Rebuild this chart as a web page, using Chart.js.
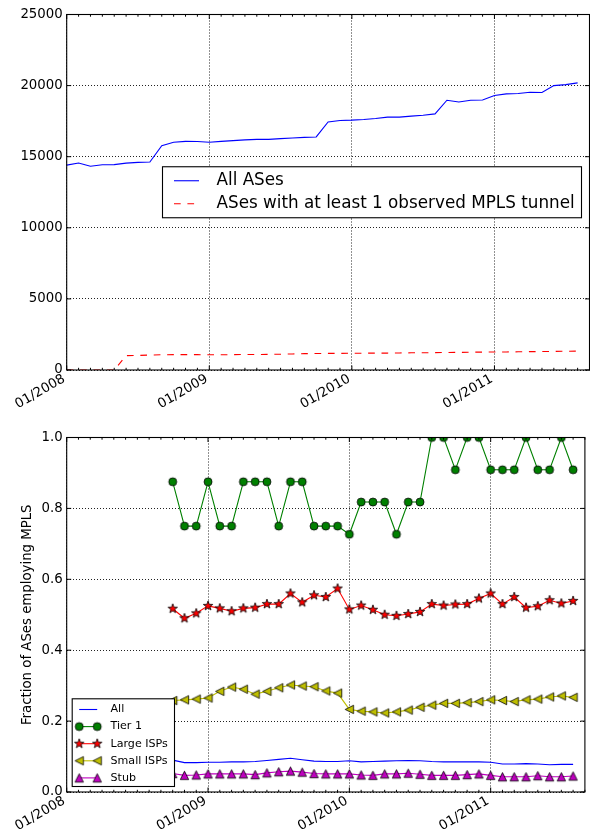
<!DOCTYPE html>
<html>
<head>
<meta charset="utf-8">
<script src="https://cdn.jsdelivr.net/npm/chart.js@4/dist/chart.umd.min.js"></script>
<style>
  html, body { margin: 0; padding: 0; background: #fff; }
  #wrap { position: relative; width: 590px; height: 835px; }
  canvas { position: absolute; left: 0; }
  #top { top: 0; }
  #bottom { top: 420px; }
</style>
</head>
<body>
<div id="wrap">
  <canvas id="top" width="590" height="420"></canvas>
  <canvas id="bottom" width="590" height="415"></canvas>
</div>
<script>
const FONT = '"DejaVu Sans", sans-serif';

// x values are months counted from 01/2008
const yearTicks = [0, 12, 24, 36];
const yearLabels = ['01/2008', '01/2009', '01/2010', '01/2011'];

// upper panel: number of ASes per month, 01/2008 .. 08/2011
const topStart = 0;
const allAses = [14410, 14560, 14330, 14430, 14440, 14550, 14600, 14630, 15780, 16020,
  16080, 16070, 16020, 16080, 16130, 16180, 16220, 16220, 16270, 16320,
  16360, 16390, 17440, 17550, 17570, 17620, 17690, 17780, 17780, 17850,
  17920, 18010, 18970, 18850, 18970, 18990, 19300, 19420, 19440, 19530,
  19510, 20000, 20070, 20190];
const mplsAses = [0, 0, 0, 0, 0, 1010, 1020, 1050, 1070, 1080,
  1080, 1080, 1070, 1070, 1080, 1090, 1090, 1100, 1110, 1130,
  1150, 1160, 1170, 1170, 1180, 1180, 1190, 1190, 1200, 1210,
  1210, 1220, 1230, 1240, 1250, 1260, 1270, 1270, 1280, 1290,
  1300, 1310, 1320, 1330];

// lower panel: fraction employing MPLS, 10/2008 .. 08/2011
const bottomStart = 9;
const fracAll = [0.09, 0.083, 0.083, 0.084, 0.084, 0.085, 0.085, 0.086, 0.089, 0.092,
  0.095, 0.091, 0.087, 0.086, 0.086, 0.088, 0.085, 0.086, 0.087, 0.088,
  0.089, 0.088, 0.086, 0.085, 0.085, 0.085, 0.085, 0.084, 0.079, 0.079,
  0.08, 0.079, 0.077, 0.078, 0.078];
const fracTier1 = [0.875, 0.75, 0.75, 0.875, 0.75, 0.75, 0.875, 0.875, 0.875, 0.75,
  0.875, 0.875, 0.75, 0.75, 0.75, 0.727, 0.818, 0.818, 0.818, 0.727,
  0.818, 0.818, 1, 1, 0.909, 1, 1, 0.909, 0.909, 0.909,
  1, 0.909, 0.909, 1, 0.909];
const fracLarge = [0.517, 0.49, 0.504, 0.525, 0.518, 0.51, 0.518, 0.52, 0.53, 0.53,
  0.56, 0.535, 0.555, 0.55, 0.574, 0.515, 0.526, 0.514, 0.5, 0.497,
  0.502, 0.508, 0.53, 0.526, 0.529, 0.53, 0.546, 0.56, 0.53, 0.55,
  0.52, 0.524, 0.541, 0.532, 0.539];
const fracSmall = [0.258, 0.26, 0.262, 0.265, 0.284, 0.296, 0.29, 0.276, 0.284, 0.294,
  0.302, 0.299, 0.297, 0.285, 0.279, 0.233, 0.228, 0.226, 0.223, 0.226,
  0.231, 0.239, 0.245, 0.25, 0.25, 0.252, 0.255, 0.26, 0.258, 0.255,
  0.26, 0.262, 0.268, 0.271, 0.267];
const fracStub = [0.052, 0.047, 0.048, 0.051, 0.051, 0.051, 0.051, 0.049, 0.054, 0.057,
  0.059, 0.056, 0.052, 0.051, 0.051, 0.051, 0.048, 0.047, 0.051, 0.051,
  0.053, 0.05, 0.047, 0.047, 0.047, 0.049, 0.051, 0.047, 0.043, 0.043,
  0.043, 0.046, 0.043, 0.043, 0.045];

function points(values, start) {
  return values.map((v, i) => ({ x: start + i, y: v }));
}

// small canvases used as point markers (and in the legend)
function marker(shape, fill, r) {
  const s = Math.ceil(r * 2 + 4);
  const c = document.createElement('canvas');
  c.width = c.height = s;
  const g = c.getContext('2d');
  g.translate(s / 2, s / 2);
  g.beginPath();
  if (shape === 'circle') {
    g.arc(0, 0, r, 0, Math.PI * 2);
  } else if (shape === 'star') {
    for (let k = 0; k < 10; k++) {
      const a = -Math.PI / 2 + k * Math.PI / 5;
      const rr = k % 2 ? r * 0.4 : r;
      g.lineTo(rr * Math.cos(a), rr * Math.sin(a));
    }
    g.closePath();
  } else if (shape === 'left') {
    g.moveTo(-r, 0); g.lineTo(r, -r); g.lineTo(r, r); g.closePath();
  } else if (shape === 'up') {
    g.moveTo(0, -r); g.lineTo(-r, r); g.lineTo(r, r); g.closePath();
  }
  g.fillStyle = fill;
  g.fill();
  g.lineWidth = 0.8;
  g.strokeStyle = '#000';
  g.stroke();
  return c;
}

const circleG = marker('circle', '#008000', 4);
const starR = marker('star', '#ff0000', 5);
const leftY = marker('left', '#bfbf00', 4.2);
const upM = marker('up', '#bf00bf', 4.2);

// box with inward ticks, like a classic matplotlib axes
const framePlugin = {
  id: 'frame',
  afterDraw(chart) {
    const { ctx, chartArea: a, scales: { x, y } } = chart;
    ctx.save();
    ctx.strokeStyle = '#000';
    ctx.lineWidth = 1;
    ctx.beginPath();
    for (let m = x.min; m <= x.max; m++) {
      const px = x.getPixelForValue(m);
      const len = m % 12 === 0 ? 4.5 : 2.2;
      ctx.moveTo(px, a.bottom); ctx.lineTo(px, a.bottom - len);
      ctx.moveTo(px, a.top); ctx.lineTo(px, a.top + len);
    }
    y.ticks.forEach(t => {
      const py = y.getPixelForValue(t.value);
      ctx.moveTo(a.left, py); ctx.lineTo(a.left + 4.5, py);
      ctx.moveTo(a.right, py); ctx.lineTo(a.right - 4.5, py);
    });
    ctx.stroke();
    ctx.lineWidth = 1.1;
    ctx.strokeRect(a.left, a.top, a.right - a.left, a.bottom - a.top);
    ctx.restore();
  }
};

function boxLegend(cfg) {
  return {
    id: 'boxLegend',
    afterDraw(chart) {
      const { ctx, chartArea: a } = chart;
      const left = cfg.loc === 'lower left' ? a.left + cfg.pad : a.right - cfg.pad - cfg.width;
      const top = cfg.loc === 'lower left' ? a.bottom - cfg.pad - cfg.height : (a.top + a.bottom - cfg.height) / 2;
      ctx.save();
      ctx.fillStyle = '#fff';
      ctx.fillRect(left, top, cfg.width, cfg.height);
      ctx.strokeStyle = '#000';
      ctx.lineWidth = 1.1;
      ctx.strokeRect(left, top, cfg.width, cfg.height);
      ctx.font = cfg.fontSize + 'px ' + FONT;
      ctx.textBaseline = 'middle';
      cfg.items.forEach((it, i) => {
        const y = top + cfg.firstRow + i * cfg.rowGap;
        const x0 = left + cfg.handle[0], x1 = left + cfg.handle[1];
        ctx.beginPath();
        ctx.setLineDash(it.dash || []);
        ctx.strokeStyle = it.color;
        ctx.lineWidth = 1.1;
        ctx.moveTo(x0, y);
        ctx.lineTo(x1, y);
        ctx.stroke();
        ctx.setLineDash([]);
        if (it.marker) {
          [x0, x1].forEach(x => ctx.drawImage(it.marker, x - it.marker.width / 2, y - it.marker.height / 2));
        }
        ctx.fillStyle = '#000';
        ctx.fillText(it.label, left + cfg.textX, y);
      });
      ctx.restore();
    }
  };
}

function monthAxis(height) {
  return {
    type: 'linear', min: 0, max: 44,
    afterFit: s => { s.height = height; },
    ticks: {
      stepSize: 12, includeBounds: false, autoSkip: false,
      minRotation: 30, maxRotation: 30, padding: 1, labelOffset: -2.5,
      color: '#000', font: { family: FONT, size: 13.3 },
      callback: v => yearLabels[yearTicks.indexOf(v)] || ''
    },
    grid: { color: '#222', lineWidth: 1, drawTicks: false },
    border: { display: false, dash: [1, 2] }
  };
}

function valueAxis(min, max, step, fmt, title) {
  return {
    type: 'linear', min: min, max: max,
    afterFit: s => { s.width = 66.7; },
    ticks: { stepSize: step, padding: 4, color: '#000', font: { family: FONT, size: 13.3 }, callback: fmt },
    grid: { color: '#222', lineWidth: 1, drawTicks: false },
    border: { display: false, dash: [1, 2] },
    title: title ? {
      display: true, text: title, color: '#000',
      font: { family: FONT, size: 13.3 }, padding: { top: 19.5, bottom: 0 }
    } : { display: false }
  };
}

const baseOptions = {
  responsive: false,
  animation: false,
  devicePixelRatio: 1,
  events: [],
  plugins: { legend: { display: false }, tooltip: { enabled: false } }
};

new Chart(document.getElementById('top'), {
  type: 'line',
  data: {
    datasets: [
      { data: points(allAses, topStart), borderColor: '#0000ff', borderWidth: 1.1, pointRadius: 0, tension: 0, clip: 0 },
      { data: points(mplsAses, topStart), borderColor: '#ff0000', borderWidth: 1.1, borderDash: [6.7, 6.7], pointRadius: 0, tension: 0, clip: 0 }
    ]
  },
  options: Object.assign({}, baseOptions, {
    layout: { padding: { top: 14.5, right: 0.5, left: 0, bottom: 0 } },
    scales: {
      x: monthAxis(50),
      y: valueAxis(0, 25000, 5000, v => String(v))
    }
  }),
  plugins: [framePlugin, boxLegend({
    loc: 'center right', pad: 8, width: 419, height: 51,
    fontSize: 16.8, firstRow: 14, rowGap: 23, handle: [11.5, 36.5], textX: 54,
    items: [
      { label: 'All ASes', color: '#0000ff' },
      { label: 'ASes with at least 1 observed MPLS tunnel', color: '#ff0000', dash: [6.7, 6.7] }
    ]
  })]
});

new Chart(document.getElementById('bottom'), {
  type: 'line',
  data: {
    datasets: [
      { label: 'All', data: points(fracAll, bottomStart), borderColor: '#0000ff', borderWidth: 1.1, pointRadius: 0, tension: 0, clip: 0, order: 5 },
      { label: 'Tier 1', data: points(fracTier1, bottomStart), borderColor: '#008000', borderWidth: 1.1, pointStyle: circleG, pointRadius: 4, tension: 0, clip: 0, order: 4 },
      { label: 'Large ISPs', data: points(fracLarge, bottomStart), borderColor: '#ff0000', borderWidth: 1.1, pointStyle: starR, pointRadius: 4, tension: 0, clip: 0, order: 3 },
      { label: 'Small ISPs', data: points(fracSmall, bottomStart), borderColor: '#bfbf00', borderWidth: 1.1, pointStyle: leftY, pointRadius: 4, tension: 0, clip: 0, order: 2 },
      { label: 'Stub', data: points(fracStub, bottomStart), borderColor: '#bf00bf', borderWidth: 1.1, pointStyle: upM, pointRadius: 4, tension: 0, clip: 0, order: 1 }
    ]
  },
  options: Object.assign({}, baseOptions, {
    layout: { padding: { top: 17.5, right: 0.5, left: 0, bottom: 0 } },
    scales: {
      x: monthAxis(43),
      y: valueAxis(0, 1, 0.2, v => v.toFixed(1), 'Fraction of ASes employing MPLS')
    }
  }),
  plugins: [framePlugin, boxLegend({
    loc: 'lower left', pad: 5.5, width: 102.3, height: 87.7,
    fontSize: 11.1, firstRow: 10.7, rowGap: 17.1, handle: [7, 25], textX: 38.3,
    items: [
      { label: 'All', color: '#0000ff' },
      { label: 'Tier 1', color: '#008000', marker: circleG },
      { label: 'Large ISPs', color: '#ff0000', marker: starR },
      { label: 'Small ISPs', color: '#bfbf00', marker: leftY },
      { label: 'Stub', color: '#bf00bf', marker: upM }
    ]
  })]
});
</script>
</body>
</html>
